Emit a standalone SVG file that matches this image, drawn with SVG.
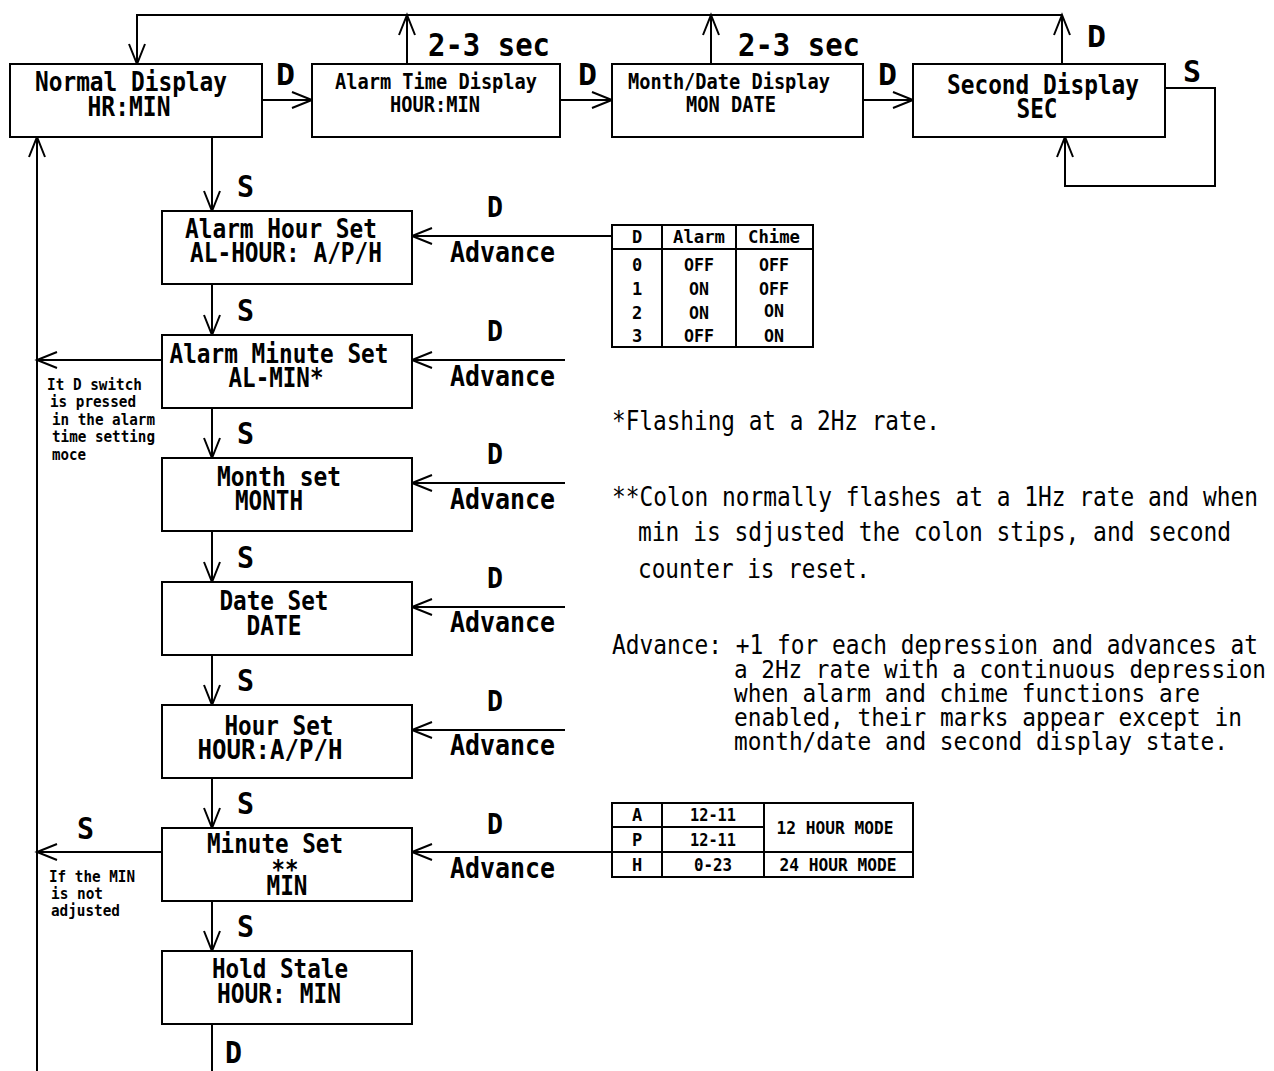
<svg xmlns="http://www.w3.org/2000/svg" width="1274" height="1071" viewBox="0 0 1274 1071">
<style>
.box{fill:#fff;stroke:#000;stroke-width:2}
.ln{fill:none;stroke:#000;stroke-width:2}
text{font-family:"DejaVu Sans Mono","Liberation Mono",monospace;font-weight:bold;fill:#000}
.c{text-anchor:middle}
.t27{font-size:27px}
.t22{font-size:22px}
.lab{font-size:30px}
.adv{font-size:28px}
.sm{font-size:15px}
.tb{font-size:17px}
.note{font-size:27px;font-weight:normal}
.note2{font-size:25px;font-weight:normal}
</style>
<defs>
<marker id="ah" markerUnits="userSpaceOnUse" markerWidth="30" markerHeight="30" viewBox="-25 -15 30 30" refX="0" refY="0" orient="auto" overflow="visible">
<path d="M-20,-8 L0,0 L-20,8" fill="none" stroke="#000" stroke-width="2"/>
</marker>
</defs>

<g id="connectors">
<path class="ln" d="M1062,15 H137 V64" marker-end="url(#ah)"/>
<path class="ln" d="M407,64 V15" marker-end="url(#ah)"/>
<path class="ln" d="M711,64 V15" marker-end="url(#ah)"/>
<path class="ln" d="M1062,64 V15" marker-end="url(#ah)"/>
<path class="ln" d="M262,100 H312" marker-end="url(#ah)"/>
<path class="ln" d="M560,100 H612" marker-end="url(#ah)"/>
<path class="ln" d="M863,100 H913" marker-end="url(#ah)"/>
<path class="ln" d="M1165,88 H1215 V186 H1065 V137" marker-end="url(#ah)"/>
<path class="ln" d="M212,137 V211" marker-end="url(#ah)"/>
<path class="ln" d="M212,284 V335" marker-end="url(#ah)"/>
<path class="ln" d="M212,408 V458" marker-end="url(#ah)"/>
<path class="ln" d="M212,531 V582" marker-end="url(#ah)"/>
<path class="ln" d="M212,655 V705" marker-end="url(#ah)"/>
<path class="ln" d="M212,778 V828" marker-end="url(#ah)"/>
<path class="ln" d="M212,901 V951" marker-end="url(#ah)"/>
<path class="ln" d="M212,1024 V1071"/>
<path class="ln" d="M37,1071 V137" marker-end="url(#ah)"/>
<path class="ln" d="M162,360 H37" marker-end="url(#ah)"/>
<path class="ln" d="M162,852 H37" marker-end="url(#ah)"/>
<path class="ln" d="M612,236 H412" marker-end="url(#ah)"/>
<path class="ln" d="M565,360 H412" marker-end="url(#ah)"/>
<path class="ln" d="M565,483 H412" marker-end="url(#ah)"/>
<path class="ln" d="M565,607 H412" marker-end="url(#ah)"/>
<path class="ln" d="M565,730 H412" marker-end="url(#ah)"/>
<path class="ln" d="M612,852 H412" marker-end="url(#ah)"/>
</g>

<g id="connector-labels">
<text class="lab" x="428" y="56" textLength="122" lengthAdjust="spacingAndGlyphs" style="font-size:32px">2-3 sec</text>
<text class="lab" x="738" y="56" textLength="122" lengthAdjust="spacingAndGlyphs" style="font-size:32px">2-3 sec</text>
<text class="lab" x="1087" y="47" textLength="19" lengthAdjust="spacingAndGlyphs">D</text>
<text class="lab" x="276" y="85" textLength="19" lengthAdjust="spacingAndGlyphs">D</text>
<text class="lab" x="578" y="85" textLength="19" lengthAdjust="spacingAndGlyphs">D</text>
<text class="lab" x="878" y="85" textLength="19" lengthAdjust="spacingAndGlyphs">D</text>
<text class="lab" x="1183" y="82" textLength="18" lengthAdjust="spacingAndGlyphs">S</text>
<text class="lab" x="237" y="197" textLength="17" lengthAdjust="spacingAndGlyphs">S</text>
<text class="lab" x="237" y="321" textLength="17" lengthAdjust="spacingAndGlyphs">S</text>
<text class="lab" x="237" y="444" textLength="17" lengthAdjust="spacingAndGlyphs">S</text>
<text class="lab" x="237" y="568" textLength="17" lengthAdjust="spacingAndGlyphs">S</text>
<text class="lab" x="237" y="691" textLength="17" lengthAdjust="spacingAndGlyphs">S</text>
<text class="lab" x="237" y="814" textLength="17" lengthAdjust="spacingAndGlyphs">S</text>
<text class="lab" x="237" y="937" textLength="17" lengthAdjust="spacingAndGlyphs">S</text>
<text class="lab" x="77" y="839" textLength="17" lengthAdjust="spacingAndGlyphs">S</text>
<text class="lab" x="225" y="1063" textLength="17" lengthAdjust="spacingAndGlyphs">D</text>

<text class="lab" x="487" y="217" textLength="16" lengthAdjust="spacingAndGlyphs" style="font-size:28px">D</text>
<text class="adv" x="450" y="262" textLength="105" lengthAdjust="spacingAndGlyphs">Advance</text>
<text class="lab" x="487" y="341" textLength="16" lengthAdjust="spacingAndGlyphs" style="font-size:28px">D</text>
<text class="adv" x="450" y="386" textLength="105" lengthAdjust="spacingAndGlyphs">Advance</text>
<text class="lab" x="487" y="464" textLength="16" lengthAdjust="spacingAndGlyphs" style="font-size:28px">D</text>
<text class="adv" x="450" y="509" textLength="105" lengthAdjust="spacingAndGlyphs">Advance</text>
<text class="lab" x="487" y="588" textLength="16" lengthAdjust="spacingAndGlyphs" style="font-size:28px">D</text>
<text class="adv" x="450" y="632" textLength="105" lengthAdjust="spacingAndGlyphs">Advance</text>
<text class="lab" x="487" y="711" textLength="16" lengthAdjust="spacingAndGlyphs" style="font-size:28px">D</text>
<text class="adv" x="450" y="755" textLength="105" lengthAdjust="spacingAndGlyphs">Advance</text>
<text class="lab" x="487" y="834" textLength="16" lengthAdjust="spacingAndGlyphs" style="font-size:28px">D</text>
<text class="adv" x="450" y="878" textLength="105" lengthAdjust="spacingAndGlyphs">Advance</text>

<text class="sm" x="47" y="390" textLength="95" lengthAdjust="spacingAndGlyphs">It D switch</text>
<text class="sm" x="50" y="407" textLength="86" lengthAdjust="spacingAndGlyphs">is pressed</text>
<text class="sm" x="52" y="425" textLength="103" lengthAdjust="spacingAndGlyphs">in the alarm</text>
<text class="sm" x="52" y="442" textLength="103" lengthAdjust="spacingAndGlyphs">time setting</text>
<text class="sm" x="52" y="460" textLength="34" lengthAdjust="spacingAndGlyphs">moce</text>
<text class="sm" x="49" y="882" textLength="86" lengthAdjust="spacingAndGlyphs">If the MIN</text>
<text class="sm" x="51" y="899" textLength="52" lengthAdjust="spacingAndGlyphs">is not</text>
<text class="sm" x="51" y="916" textLength="69" lengthAdjust="spacingAndGlyphs">adjusted</text>
</g>

<g id="normal-display">
<rect class="box" x="10" y="64" width="252" height="73"/>
<text class="t27 c" x="131" y="91" textLength="192" lengthAdjust="spacingAndGlyphs">Normal Display</text>
<text class="t27 c" x="129" y="116" textLength="83" lengthAdjust="spacingAndGlyphs">HR:MIN</text>
</g>
<g id="alarm-time-display">
<rect class="box" x="312" y="64" width="248" height="73"/>
<text class="t22 c" x="436" y="89" textLength="202" lengthAdjust="spacingAndGlyphs">Alarm Time Display</text>
<text class="t22 c" x="435" y="112" textLength="90" lengthAdjust="spacingAndGlyphs">HOUR:MIN</text>
</g>
<g id="month-date-display">
<rect class="box" x="612" y="64" width="251" height="73"/>
<text class="t22 c" x="729" y="89" textLength="202" lengthAdjust="spacingAndGlyphs">Month/Date Display</text>
<text class="t22 c" x="731" y="112" textLength="90" lengthAdjust="spacingAndGlyphs">MON DATE</text>
</g>
<g id="second-display">
<rect class="box" x="913" y="64" width="252" height="73"/>
<text class="t27 c" x="1043" y="94" textLength="192" lengthAdjust="spacingAndGlyphs">Second Display</text>
<text class="t27 c" x="1037" y="118" textLength="41" lengthAdjust="spacingAndGlyphs">SEC</text>
</g>

<g id="alarm-hour-set">
<rect class="box" x="162" y="211" width="250" height="73"/>
<text class="t27 c" x="281" y="238" textLength="192" lengthAdjust="spacingAndGlyphs">Alarm Hour Set</text>
<text class="t27 c" x="286" y="262" textLength="192" lengthAdjust="spacingAndGlyphs">AL-HOUR: A/P/H</text>
</g>
<g id="alarm-minute-set">
<rect class="box" x="162" y="335" width="250" height="73"/>
<text class="t27 c" x="279" y="363" textLength="219" lengthAdjust="spacingAndGlyphs">Alarm Minute Set</text>
<text class="t27 c" x="276" y="387" textLength="95" lengthAdjust="spacingAndGlyphs">AL-MIN*</text>
</g>
<g id="month-set">
<rect class="box" x="162" y="458" width="250" height="73"/>
<text class="t27 c" x="279" y="486" textLength="124" lengthAdjust="spacingAndGlyphs">Month set</text>
<text class="t27 c" x="269" y="510" textLength="68" lengthAdjust="spacingAndGlyphs">MONTH</text>
</g>
<g id="date-set">
<rect class="box" x="162" y="582" width="250" height="73"/>
<text class="t27 c" x="274" y="610" textLength="109" lengthAdjust="spacingAndGlyphs">Date Set</text>
<text class="t27 c" x="274" y="635" textLength="55" lengthAdjust="spacingAndGlyphs">DATE</text>
</g>
<g id="hour-set">
<rect class="box" x="162" y="705" width="250" height="73"/>
<text class="t27 c" x="279" y="735" textLength="109" lengthAdjust="spacingAndGlyphs">Hour Set</text>
<text class="t27 c" x="270" y="759" textLength="145" lengthAdjust="spacingAndGlyphs">HOUR:A/P/H</text>
</g>
<g id="minute-set">
<rect class="box" x="162" y="828" width="250" height="73"/>
<text class="t27 c" x="275" y="853" textLength="136" lengthAdjust="spacingAndGlyphs">Minute Set</text>
<text class="t27 c" x="285" y="879" textLength="27" lengthAdjust="spacingAndGlyphs">**</text>
<text class="t27 c" x="287" y="895" textLength="41" lengthAdjust="spacingAndGlyphs">MIN</text>
</g>
<g id="hold-stale">
<rect class="box" x="162" y="951" width="250" height="73"/>
<text class="t27 c" x="280" y="978" textLength="136" lengthAdjust="spacingAndGlyphs">Hold Stale</text>
<text class="t27 c" x="279" y="1003" textLength="124" lengthAdjust="spacingAndGlyphs">HOUR: MIN</text>
</g>

<g id="alarm-chime-table">
<rect class="box" x="612" y="225" width="201" height="122"/>
<path class="ln" d="M612,249 H813 M662,225 V347 M736,225 V347"/>
<text class="tb c" x="637" y="243">D</text>
<text class="tb c" x="699" y="243" textLength="52" lengthAdjust="spacingAndGlyphs">Alarm</text>
<text class="tb c" x="774" y="243" textLength="52" lengthAdjust="spacingAndGlyphs">Chime</text>
<text class="tb c" x="637" y="271">0</text>
<text class="tb c" x="699" y="271" textLength="30" lengthAdjust="spacingAndGlyphs">OFF</text>
<text class="tb c" x="774" y="271" textLength="30" lengthAdjust="spacingAndGlyphs">OFF</text>
<text class="tb c" x="637" y="295">1</text>
<text class="tb c" x="699" y="295" textLength="20" lengthAdjust="spacingAndGlyphs">ON</text>
<text class="tb c" x="774" y="295" textLength="30" lengthAdjust="spacingAndGlyphs">OFF</text>
<text class="tb c" x="637" y="319">2</text>
<text class="tb c" x="699" y="319" textLength="20" lengthAdjust="spacingAndGlyphs">ON</text>
<text class="tb c" x="774" y="317" textLength="20" lengthAdjust="spacingAndGlyphs">ON</text>
<text class="tb c" x="637" y="342">3</text>
<text class="tb c" x="699" y="342" textLength="30" lengthAdjust="spacingAndGlyphs">OFF</text>
<text class="tb c" x="774" y="342" textLength="20" lengthAdjust="spacingAndGlyphs">ON</text>
</g>

<g id="hour-mode-table">
<rect class="box" x="612" y="803" width="301" height="74"/>
<path class="ln" d="M612,827 H764 M612,852 H913 M662,803 V877 M764,803 V877"/>
<text class="tb c" x="637" y="821">A</text>
<text class="tb c" x="713" y="821" textLength="46" lengthAdjust="spacingAndGlyphs">12-11</text>
<text class="tb c" x="637" y="846">P</text>
<text class="tb c" x="713" y="846" textLength="46" lengthAdjust="spacingAndGlyphs">12-11</text>
<text class="tb c" x="637" y="871">H</text>
<text class="tb c" x="713" y="871" textLength="38" lengthAdjust="spacingAndGlyphs">0-23</text>
<text class="tb c" x="835" y="834" textLength="117" lengthAdjust="spacingAndGlyphs">12 HOUR MODE</text>
<text class="tb c" x="838" y="871" textLength="117" lengthAdjust="spacingAndGlyphs">24 HOUR MODE</text>
</g>

<g id="notes">
<text class="note" x="612" y="430" textLength="328" lengthAdjust="spacingAndGlyphs">*Flashing at a 2Hz rate.</text>
<text class="note" x="612" y="506" textLength="646" lengthAdjust="spacingAndGlyphs">**Colon normally flashes at a 1Hz rate and when</text>
<text class="note" x="638" y="541" textLength="593" lengthAdjust="spacingAndGlyphs">min is sdjusted the colon stips, and second</text>
<text class="note" x="638" y="578" textLength="232" lengthAdjust="spacingAndGlyphs">counter is reset.</text>
<text class="note" x="612" y="654" textLength="646" lengthAdjust="spacingAndGlyphs">Advance: +1 for each depression and advances at</text>
<text class="note2" x="734" y="678" textLength="532" lengthAdjust="spacingAndGlyphs">a 2Hz rate with a continuous depression</text>
<text class="note2" x="734" y="702" textLength="466" lengthAdjust="spacingAndGlyphs">when alarm and chime functions are</text>
<text class="note2" x="734" y="726" textLength="508" lengthAdjust="spacingAndGlyphs">enabled, their marks appear except in</text>
<text class="note2" x="734" y="750" textLength="494" lengthAdjust="spacingAndGlyphs">month/date and second display state.</text>
</g>
</svg>
